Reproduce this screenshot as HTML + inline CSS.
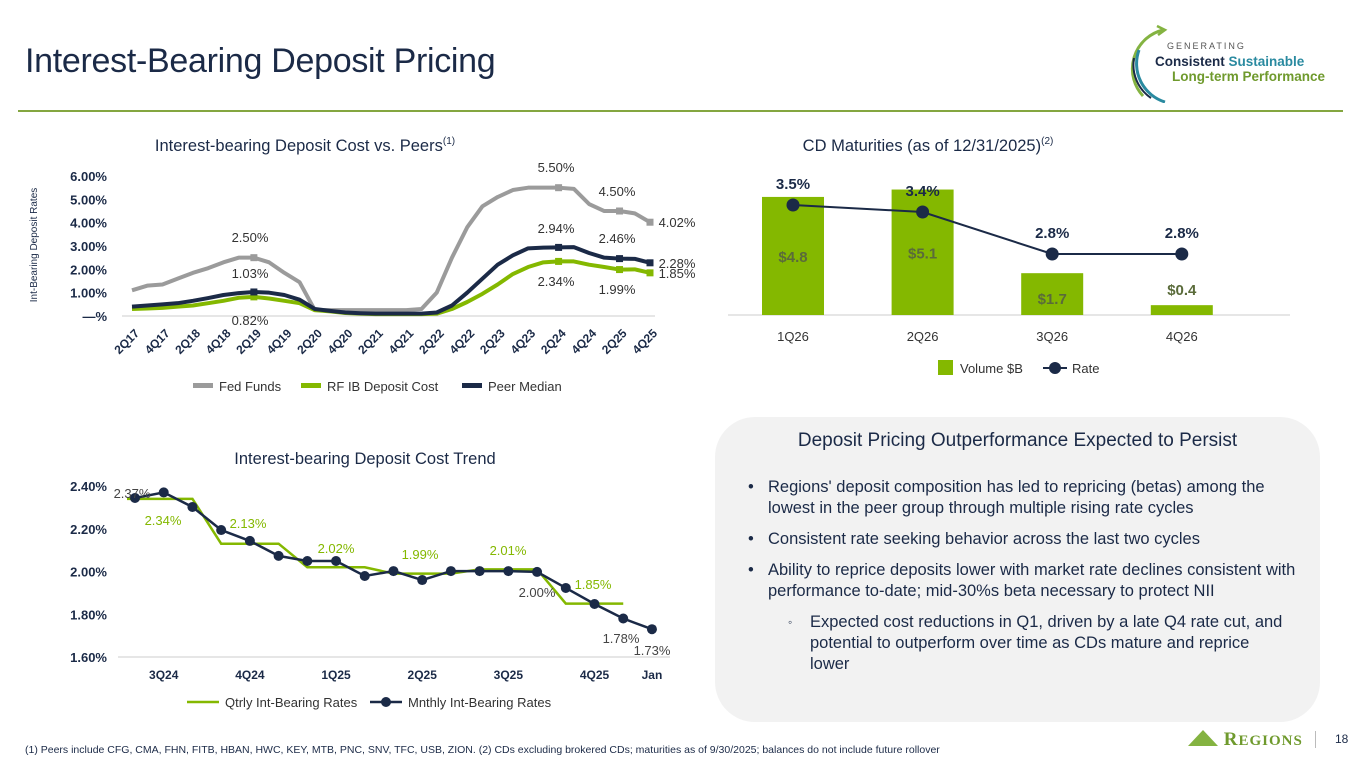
<!DOCTYPE html>
<html><head><meta charset="utf-8">
<style>
body{margin:0;width:1365px;height:768px;overflow:hidden;background:#fff;font-family:"Liberation Sans",sans-serif;position:relative}
.abs{position:absolute}
svg text{font-family:"Liberation Sans",sans-serif}
</style></head><body>
<div class="abs" style="left:25px;top:42px;font-size:34px;color:#1b2a47;letter-spacing:-0.3px">Interest-Bearing Deposit Pricing</div>
<div class="abs" style="left:18px;top:110px;width:1325px;height:2px;background:#84a640"></div>
<svg class="abs" style="left:1125px;top:18px" width="200" height="85">
<path d="M38 12 A40 40 0 0 0 18 78" fill="none" stroke="#84b341" stroke-width="3"/>
<path d="M32 8 L40 12 L33 17" fill="none" stroke="#84b341" stroke-width="2.5"/>
<path d="M14 32 A40 40 0 0 0 40 84" fill="none" stroke="#2a8aa0" stroke-width="3"/>
<path d="M9 40 A40 40 0 0 0 26 80" fill="none" stroke="#1b2a47" stroke-width="2"/>
<text x="42" y="31" font-size="9" fill="#555" letter-spacing="2">GENERATING</text>
<text x="30" y="48" font-size="13.5" font-weight="bold" fill="#1b2a47">Consistent <tspan fill="#2a8aa0">Sustainable</tspan></text>
<text x="47" y="63" font-size="13.5" font-weight="bold" fill="#6f9a2d">Long-term Performance</text>
</svg>

<svg class="abs" id="c1" style="left:0;top:120px" width="700" height="290"></svg>
<svg class="abs" id="c2" style="left:700px;top:120px" width="665" height="290"></svg>
<svg class="abs" id="c3" style="left:0;top:430px" width="700" height="290"></svg>

<div class="abs" style="left:715px;top:417px;width:605px;height:305px;background:#f2f2f2;border-radius:40px">
<div style="text-align:center;margin-top:13px;font-size:19px;color:#1b2a47">Deposit Pricing Outperformance Expected to Persist</div>
<div style="font-size:16.5px;color:#1b2a47;line-height:21px;margin:25px 24px 0 33px">
<div style="position:relative;padding-left:20px;margin-bottom:10px"><span style="position:absolute;left:0">•</span>Regions' deposit composition has led to repricing (betas) among the lowest in the peer group through multiple rising rate cycles</div>
<div style="position:relative;padding-left:20px;margin-bottom:10px"><span style="position:absolute;left:0">•</span>Consistent rate seeking behavior across the last two cycles</div>
<div style="position:relative;padding-left:20px;margin-bottom:10px"><span style="position:absolute;left:0">•</span>Ability to reprice deposits lower with market rate declines consistent with performance to-date; mid-30%s beta necessary to protect NII</div>
<div style="position:relative;padding-left:62px;padding-right:10px"><span style="position:absolute;left:40px;font-size:12px">◦</span>Expected cost reductions in Q1, driven by a late Q4 rate cut, and potential to outperform over time as CDs mature and reprice lower</div>
</div></div>

<div class="abs" style="left:25px;top:744px;font-size:10.5px;color:#1b2a47">(1) Peers include CFG, CMA, FHN, FITB, HBAN, HWC, KEY, MTB, PNC, SNV, TFC, USB, ZION. (2) CDs excluding brokered CDs; maturities as of 9/30/2025; balances do not include future rollover</div>
<div class="abs" style="left:1188px;top:729px;font-size:19px;color:#6f9a2d;font-family:'Liberation Serif',serif;font-weight:bold;letter-spacing:1px"><span style="display:inline-block;width:0;height:0;border-left:15px solid transparent;border-right:15px solid transparent;border-bottom:16px solid #84b341;vertical-align:-1px"></span> R<span style="font-size:15px">EGIONS</span></div>
<div class="abs" style="left:1315px;top:731px;width:1px;height:17px;background:#bbb"></div>
<div class="abs" style="left:1335px;top:732px;font-size:12px;color:#1b2a47">18</div>

<script>
const NS='http://www.w3.org/2000/svg';
function mk(p,t,a,txt){const e=document.createElementNS(NS,t);for(const k in a)e.setAttribute(k,a[k]);if(txt!==undefined)e.textContent=txt;p.appendChild(e);return e;}

// ---- Chart 1 data
const qLabels=['2Q17','4Q17','2Q18','4Q18','2Q19','4Q19','2Q20','4Q20','2Q21','4Q21','2Q22','4Q22','2Q23','4Q23','2Q24','4Q24','2Q25','4Q25'];
const fedFunds=[1.1,1.3,1.35,1.6,1.85,2.05,2.3,2.5,2.5,2.3,1.85,1.45,0.25,0.25,0.25,0.25,0.25,0.25,0.25,0.3,1.0,2.5,3.8,4.7,5.1,5.4,5.5,5.5,5.5,5.45,4.8,4.5,4.5,4.4,4.02];
const rfCost=[0.3,0.32,0.35,0.4,0.45,0.55,0.65,0.78,0.82,0.75,0.65,0.55,0.25,0.2,0.13,0.1,0.08,0.08,0.08,0.08,0.1,0.3,0.6,0.95,1.35,1.8,2.1,2.3,2.34,2.34,2.2,2.1,1.99,2.0,1.85];
const peerMedian=[0.4,0.45,0.5,0.55,0.65,0.77,0.9,0.98,1.03,1.0,0.9,0.7,0.3,0.22,0.15,0.12,0.1,0.1,0.1,0.1,0.15,0.45,1.0,1.6,2.2,2.6,2.9,2.93,2.94,2.95,2.7,2.5,2.46,2.45,2.28];
const yTicks1=[0,1,2,3,4,5,6];
const yTickLabels1=['—%','1.00%','2.00%','3.00%','4.00%','5.00%','6.00%'];

const c1=document.getElementById('c1');
const x1=i=>132+i*(518/34), y1=v=>196-v*23.33;
{const t=mk(c1,'text',{x:305,y:31,'font-size':16.5,fill:'#1b2a47','text-anchor':'middle',},'Interest-bearing Deposit Cost vs. Peers');mk(t,'tspan',{'font-size':10,dy:-7},'(1)');}
mk(c1,'text',{x:0,y:0,'font-size':10,fill:'#1b2a47','text-anchor':'middle',transform:'translate(37,125) rotate(-90)',},'Int-Bearing Deposit Rates');
yTicks1.forEach((t,i)=>{const e=mk(c1,'text',{x:107,y:y1(t)+5,'font-size':13,'font-weight':'bold',fill:'#1b2a47','text-anchor':'end'},yTickLabels1[i]);});
mk(c1,'line',{x1:122,x2:655,y1:y1(0),y2:y1(0),stroke:'#ccc',});
qLabels.forEach((l,i)=>{const e=mk(c1,'text',{x:0,y:0,'font-size':12,'font-weight':'bold',fill:'#1b2a47','text-anchor':'end',transform:`translate(${x1(i*2)+8},${y1(0)+18}) rotate(-45)`},l);});
function line1(vals,col,name){const p=mk(c1,'polyline',{points:vals.map((v,i)=>x1(i)+','+y1(v)).join(' '),fill:'none',stroke:col,'stroke-width':4,'stroke-linejoin':'round'});
[8,28,32,34].forEach(i=>{const r=mk(c1,'rect',{x:x1(i)-3.5,y:y1(vals[i])-3.5,width:7,height:7,fill:col});});}
line1(fedFunds,'#9b9b9b','fed-funds-line');
line1(rfCost,'#84b800','rf-ib-deposit-cost-line');
line1(peerMedian,'#1b2a47','peer-median-line');
const ann1=[[250,122,'2.50%'],[250,158,'1.03%'],[250,205,'0.82%'],[556,52,'5.50%'],[556,113,'2.94%'],[556,166,'2.34%'],[617,76,'4.50%'],[617,123,'2.46%'],[617,174,'1.99%'],[677,107,'4.02%'],[677,148,'2.28%'],[677,158,'1.85%']];
ann1.forEach(a=>{const e=mk(c1,'text',{x:a[0],y:a[1],'font-size':13,fill:'#333','text-anchor':'middle'},a[2]);});
[[193,'#9b9b9b','Fed Funds'],[301,'#84b800','RF IB Deposit Cost'],[462,'#1b2a47','Peer Median']].forEach(l=>{const g=mk(c1,'g',{});mk(g,'rect',{x:l[0],y:263,width:20,height:5,fill:l[1]});mk(g,'text',{x:l[0]+26,y:271,'font-size':13,fill:'#333'},l[2]);});

// ---- Chart 2 data
const cdQuarters=['1Q26','2Q26','3Q26','4Q26'];
const cdVolume=[4.8,5.1,1.7,0.4];
const cdRate=[3.5,3.4,2.8,2.8];
const c2=document.getElementById('c2');
const x2=i=>93+i*129.6, yv=v=>195-v*24.6, yr=r=>134-(r-2.8)*70;
{const t=mk(c2,'text',{x:228,y:31,'font-size':16.5,fill:'#1b2a47','text-anchor':'middle',},'CD Maturities (as of 12/31/2025)');mk(t,'tspan',{'font-size':10,dy:-7},'(2)');}
mk(c2,'line',{x1:28,x2:590,y1:195,y2:195,stroke:'#ccc',});
cdVolume.forEach((v,i)=>{const r=mk(c2,'rect',{x:x2(i)-31,y:yv(v),width:62,height:195-yv(v),fill:'#84b800'});
const inside=195-yv(v)>30;const t=mk(c2,'text',{x:x2(i),y:inside?(yv(v)+(195-yv(v))*0.5+6+(v<3?4:0)):yv(v)-10,'font-size':15,'font-weight':'bold',fill:'#5a6b3a','text-anchor':'middle'},'$'+v.toFixed(1));
const q=mk(c2,'text',{x:x2(i),y:221,'font-size':13,fill:'#333','text-anchor':'middle'},cdQuarters[i]);});
const rl=mk(c2,'polyline',{points:cdRate.map((r,i)=>x2(i)+','+yr(r)).join(' '),fill:'none',stroke:'#1b2a47','stroke-width':2});

cdRate.forEach((r,i)=>{const c=mk(c2,'circle',{cx:x2(i),cy:yr(r),r:6.5,fill:'#1b2a47'});
const t=mk(c2,'text',{x:x2(i),y:yr(r)-16,'font-size':15,'font-weight':'bold',fill:'#1b2a47','text-anchor':'middle'},r.toFixed(1)+'%');});
{const g=mk(c2,'g',{});mk(g,'rect',{x:238,y:240,width:15,height:15,fill:'#84b800'});mk(g,'text',{x:260,y:253,'font-size':13,fill:'#333'},'Volume $B');}
{const g=mk(c2,'g',{});mk(g,'line',{x1:343,x2:367,y1:248,y2:248,stroke:'#1b2a47','stroke-width':2});mk(g,'circle',{cx:355,cy:248,r:6,fill:'#1b2a47'});mk(g,'text',{x:372,y:253,'font-size':13,fill:'#333'},'Rate');}

// ---- Chart 3 data
const trendQuarters=['3Q24','4Q24','1Q25','2Q25','3Q25','4Q25','Jan'];
const qtrlyRates=[2.34,2.13,2.02,1.99,2.01,1.85];
const mnthlyRates=[2.344,2.37,2.302,2.194,2.143,2.073,2.049,2.049,1.979,2.002,1.96,2.002,2.002,2.002,1.998,1.923,1.848,1.78,1.73];
const yTicks3=[1.6,1.8,2.0,2.2,2.4];
const c3=document.getElementById('c3');
const x3=i=>135+i*28.72, y3=v=>227-(v-1.6)*213.75;
mk(c3,'text',{x:365,y:34,'font-size':16.5,fill:'#1b2a47','text-anchor':'middle',},'Interest-bearing Deposit Cost Trend');
yTicks3.forEach(t=>{const e=mk(c3,'text',{x:107,y:y3(t)+5,'font-size':13,'font-weight':'bold',fill:'#1b2a47','text-anchor':'end'},t.toFixed(2)+'%');});
mk(c3,'line',{x1:118,x2:670,y1:y3(1.6),y2:y3(1.6),stroke:'#ccc',});
trendQuarters.forEach((l,i)=>{const xi=i<6?x3(i*3+1):x3(18);const e=mk(c3,'text',{x:xi,y:249,'font-size':12,'font-weight':'bold',fill:'#1b2a47','text-anchor':'middle'},l);});
let qp=[];qtrlyRates.forEach((v,i)=>{qp.push((x3(i*3)-(i==0?8:0))+','+y3(v));qp.push(x3(i*3+2)+','+y3(v));});
const ql=mk(c3,'polyline',{points:qp.join(' '),fill:'none',stroke:'#84b800','stroke-width':2.5});

const ml=mk(c3,'polyline',{points:mnthlyRates.map((v,i)=>x3(i)+','+y3(v)).join(' '),fill:'none',stroke:'#1b2a47','stroke-width':2.5});

mnthlyRates.forEach((v,i)=>{const c=mk(c3,'circle',{cx:x3(i),cy:y3(v),r:5,fill:'#1b2a47'});});
const ann3=[[163,95,'2.34%','#84b800'],[248,98,'2.13%','#84b800'],[336,123,'2.02%','#84b800'],[420,129,'1.99%','#84b800'],[508,125,'2.01%','#84b800'],[593,159,'1.85%','#84b800'],[132,68,'2.37%','#444'],[537,167,'2.00%','#444'],[621,213,'1.78%','#444'],[652,225,'1.73%','#444']];
ann3.forEach(a=>{const e=mk(c3,'text',{x:a[0],y:a[1],'font-size':13,fill:a[3],'text-anchor':'middle'},a[2]);});
{const g=mk(c3,'g',{});mk(g,'line',{x1:187,x2:219,y1:272,y2:272,stroke:'#84b800','stroke-width':2.5});mk(g,'text',{x:225,y:277,'font-size':13,fill:'#333'},'Qtrly Int-Bearing Rates');}
{const g=mk(c3,'g',{});mk(g,'line',{x1:370,x2:402,y1:272,y2:272,stroke:'#1b2a47','stroke-width':2.5});mk(g,'circle',{cx:386,cy:272,r:5,fill:'#1b2a47'});mk(g,'text',{x:408,y:277,'font-size':13,fill:'#333'},'Mnthly Int-Bearing Rates');}
</script>
</body></html>
